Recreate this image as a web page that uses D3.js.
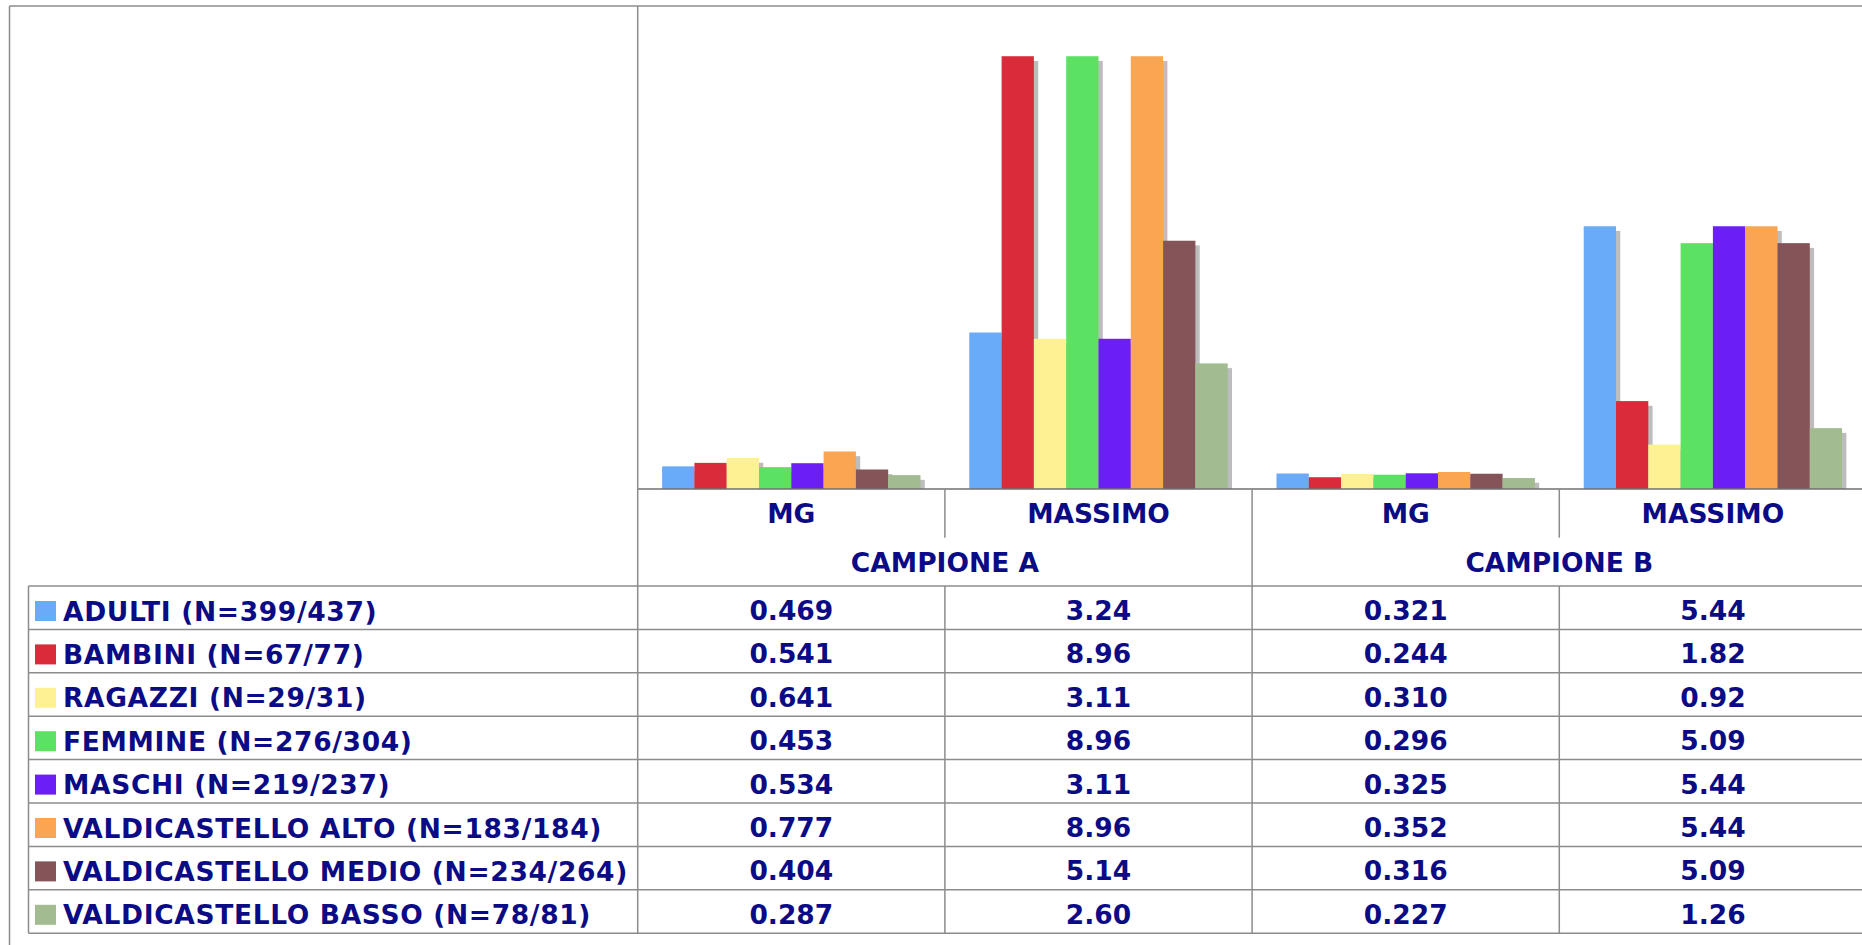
<!DOCTYPE html>
<html>
<head>
<meta charset="utf-8">
<script src="https://cdn.jsdelivr.net/npm/d3@7"></script>
<style>
  body { margin: 0; background: #fff; overflow: hidden; }
  svg text { font-family: 'DejaVu Sans', Verdana, sans-serif; font-weight: bold; fill: #0b0b85; }
</style>
</head>
<body>
<div id="chart"></div>
<script>
// categories (x axis, two levels)
const categories = ['MG', 'MASSIMO', 'MG', 'MASSIMO'];
const groups = ['CAMPIONE A', 'CAMPIONE B'];
const categoryFormats = ['.3f', '.2f', '.3f', '.2f'];

// series (legend rows)
const seriesNames = [
  'ADULTI (N=399/437)',
  'BAMBINI (N=67/77)',
  'RAGAZZI (N=29/31)',
  'FEMMINE (N=276/304)',
  'MASCHI (N=219/237)',
  'VALDICASTELLO ALTO (N=183/184)',
  'VALDICASTELLO MEDIO (N=234/264)',
  'VALDICASTELLO BASSO (N=78/81)'
];
const seriesColors = ['#6aabf8', '#d92b3a', '#fef193', '#5be263', '#6b1ff6', '#f9a552', '#845458', '#a3bb90'];

// values per category column, one per series
const mgA   = [0.469, 0.541, 0.641, 0.453, 0.534, 0.777, 0.404, 0.287];
const maxA  = [3.24, 8.96, 3.11, 8.96, 3.11, 8.96, 5.14, 2.60];
const mgB   = [0.321, 0.244, 0.310, 0.296, 0.325, 0.352, 0.316, 0.227];
const maxB  = [5.44, 1.82, 0.92, 5.09, 5.44, 5.44, 5.09, 1.26];
const columns = [mgA, maxA, mgB, maxB];

const W = 1862, H = 945;
const plotLeft = 637.7, catW = 307.2;
const plotRight = plotLeft + catW * categories.length;
const plotTop = 6, baseY = 489;
const tableLeft = 28.5, headTop = 586, rowH = 43.4;
const frameColor = '#8c8c8c';

const svg = d3.select('#chart').append('svg')
  .attr('width', W).attr('height', H);

const x0 = d3.scaleBand()
  .domain(d3.range(categories.length))
  .range([plotLeft, plotRight])
  .padding(0);

const x1 = d3.scaleBand()
  .domain(d3.range(seriesNames.length))
  .range([24.4, catW - 24.4])
  .padding(0);

const y = d3.scaleLinear().domain([0, 10]).range([baseY, plotTop]);

// outer frame
svg.append('line').attr('x1', 9.5).attr('x2', W).attr('y1', plotTop).attr('y2', plotTop)
  .attr('stroke', frameColor).attr('stroke-width', 1.5);
svg.append('line').attr('x1', 9.5).attr('x2', 9.5).attr('y1', plotTop).attr('y2', H)
  .attr('stroke', frameColor).attr('stroke-width', 1.5);

// bars
const catG = svg.selectAll('g.cat')
  .data(columns)
  .join('g')
  .attr('class', 'cat')
  .attr('transform', (d, i) => `translate(${x0(i)},0)`);

// shadows first, so neighbouring bars cover them
catG.selectAll('rect.shadow')
  .data(d => d.map((v, i) => ({ v, i })))
  .join('rect')
  .attr('class', 'shadow')
  .attr('x', d => x1(d.i) + 4.3)
  .attr('y', d => y(d.v) + 4.7)
  .attr('width', x1.bandwidth())
  .attr('height', d => Math.max(0, baseY - y(d.v) - 4.7))
  .attr('fill', '#bdbdbd');

catG.selectAll('rect.bar')
  .data(d => d.map((v, i) => ({ v, i })))
  .join('rect')
  .attr('class', 'bar')
  .attr('x', d => x1(d.i))
  .attr('y', d => y(d.v))
  .attr('width', x1.bandwidth())
  .attr('height', d => baseY - y(d.v))
  .attr('fill', d => seriesColors[d.i]);

// baseline
svg.append('line').attr('x1', plotLeft).attr('x2', W).attr('y1', baseY).attr('y2', baseY)
  .attr('stroke', '#707070').attr('stroke-width', 1.5);

// plot left border (runs to the bottom of the table)
const tableBottom = headTop + rowH * seriesNames.length;
svg.append('line').attr('x1', plotLeft).attr('x2', plotLeft).attr('y1', plotTop).attr('y2', tableBottom)
  .attr('stroke', frameColor).attr('stroke-width', 1.5);

// header vertical dividers
categories.forEach((c, i) => {
  if (i === 0) return;
  const isGroup = i % 2 === 0;
  svg.append('line')
    .attr('x1', x0(i)).attr('x2', x0(i))
    .attr('y1', baseY).attr('y2', isGroup ? tableBottom : 537.7)
    .attr('stroke', frameColor).attr('stroke-width', 1.5);
});

// category labels
svg.selectAll('text.cat')
  .data(categories)
  .join('text')
  .attr('class', 'cat')
  .attr('x', (d, i) => x0(i) + catW / 2)
  .attr('y', 523)
  .attr('text-anchor', 'middle')
  .style('font-size', '26.5px')
  .text(d => d);

svg.selectAll('text.group')
  .data(groups)
  .join('text')
  .attr('class', 'group')
  .attr('x', (d, i) => x0(i * 2) + catW)
  .attr('y', 572)
  .attr('text-anchor', 'middle')
  .style('font-size', '26.5px')
  .text(d => d);

// table grid
d3.range(seriesNames.length + 1).forEach(r => {
  const yy = headTop + r * rowH;
  svg.append('line').attr('x1', tableLeft).attr('x2', W).attr('y1', yy).attr('y2', yy)
    .attr('stroke', frameColor).attr('stroke-width', 1.5);
});
svg.append('line').attr('x1', tableLeft).attr('x2', tableLeft).attr('y1', headTop).attr('y2', tableBottom)
  .attr('stroke', frameColor).attr('stroke-width', 1.5);
categories.forEach((c, i) => {
  if (i % 2 === 1) {
    svg.append('line').attr('x1', x0(i)).attr('x2', x0(i)).attr('y1', headTop).attr('y2', tableBottom)
      .attr('stroke', frameColor).attr('stroke-width', 1.5);
  }
});

// legend column
const rows = svg.selectAll('g.row')
  .data(seriesNames)
  .join('g')
  .attr('class', 'row')
  .attr('transform', (d, i) => `translate(0,${headTop + i * rowH})`);

rows.append('rect')
  .attr('x', 35).attr('y', 15).attr('width', 21).attr('height', 20)
  .attr('fill', (d, i) => seriesColors[i]);

rows.append('text')
  .attr('x', 63)
  .attr('y', 34.5)
  .style('font-size', '26.5px')
  .style('letter-spacing', '0.65px')
  .text(d => d);

// value cells
columns.forEach((col, c) => {
  const fmt = d3.format(categoryFormats[c]);
  rows.append('text')
    .attr('x', x0(c) + catW / 2)
    .attr('y', 34)
    .attr('text-anchor', 'middle')
    .style('font-size', '26.5px')
    .text((d, i) => fmt(col[i]));
});
</script>
</body>
</html>
